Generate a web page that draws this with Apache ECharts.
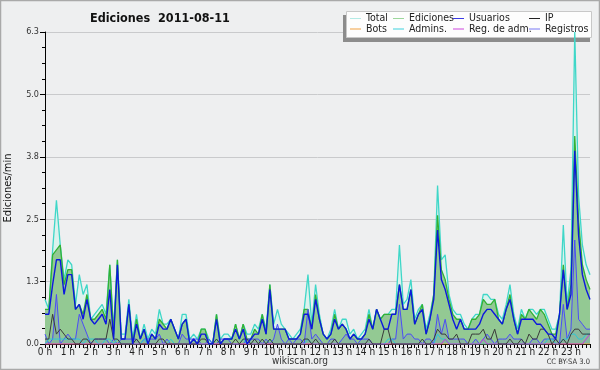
<!DOCTYPE html>
<html>
<head>
<meta charset="utf-8">
<script src="https://cdn.jsdelivr.net/npm/echarts@6/dist/echarts.min.js"></script>
<style>
html, body { margin: 0; padding: 0; background: #eeeff0; }
#chart { width: 600px; height: 370px; }
</style>
</head>
<body>
<div id="chart"></div>
<script>
// ticks de l'axe X (une étiquette par heure, 6 points de 10 min par heure)
const hourLabels = ['0 h', '1 h', '2 h', '3 h', '4 h', '5 h', '6 h', '7 h', '8 h', '9 h', '10 h', '11 h',
    '12 h', '13 h', '14 h', '15 h', '16 h', '17 h', '18 h', '19 h', '20 h', '21 h', '22 h', '23 h'];
const yTicks = [0, 1.26, 2.52, 3.78, 5.04, 6.3];

// ediciones/min, pasos de 10 minutos
const total = [
    0.9, 0.7, 1.9, 2.9, 2.0, 1.3,   1.7, 1.6, 0.8, 1.4, 1.0, 1.2,
    0.5, 0.6, 0.7, 0.8, 0.6, 1.6,   0.3, 1.7, 0.2, 0.2, 0.9, 0.1,
    0.6, 0.1, 0.4, 0.1, 0.3, 0.2,   0.7, 0.4, 0.4, 0.5, 0.3, 0.1,
    0.6, 0.6, 0.1, 0.2, 0.1, 0.3,   0.3, 0.1, 0.0, 0.6, 0.1, 0.2,
    0.2, 0.1, 0.4, 0.1, 0.4, 0.2,   0.2, 0.4, 0.3, 0.6, 0.3, 1.2,
    0.4, 0.7, 0.4, 0.3, 0.2, 0.1,   0.2, 0.3, 0.7, 1.4, 0.4, 1.2,
    0.6, 0.2, 0.1, 0.3, 0.7, 0.3,   0.5, 0.5, 0.2, 0.3, 0.1, 0.2,
    0.3, 0.7, 0.3, 0.7, 0.5, 0.6,   0.6, 0.7, 0.7, 2.0, 0.8, 0.9,
    1.3, 0.5, 0.7, 0.8, 0.3, 0.6,   1.0, 3.2, 1.7, 1.8, 1.0, 0.7,
    0.6, 0.6, 0.4, 0.3, 0.5, 0.6,   0.6, 1.0, 1.0, 0.9, 0.9, 0.6,
    0.5, 0.8, 1.2, 0.6, 0.3, 0.7,   0.5, 0.7, 0.7, 0.6, 0.7, 0.7,
    0.5, 0.3, 0.3, 0.6, 2.4, 0.8,   1.5, 6.3, 3.0, 2.0, 1.6, 1.4
];
const ediciones = [
    0.7, 0.7, 1.8, 1.9, 2.0, 1.2,   1.5, 1.5, 0.7, 0.8, 0.6, 1.0,
    0.5, 0.5, 0.6, 0.7, 0.5, 1.6,   0.2, 1.7, 0.1, 0.1, 0.8, 0.0,
    0.5, 0.1, 0.3, 0.0, 0.2, 0.1,   0.5, 0.4, 0.3, 0.5, 0.3, 0.1,
    0.4, 0.5, 0.0, 0.1, 0.0, 0.3,   0.3, 0.0, 0.0, 0.6, 0.0, 0.1,
    0.1, 0.1, 0.4, 0.1, 0.4, 0.1,   0.1, 0.3, 0.2, 0.6, 0.2, 1.2,
    0.3, 0.3, 0.3, 0.3, 0.1, 0.1,   0.1, 0.2, 0.7, 0.7, 0.3, 1.0,
    0.5, 0.2, 0.1, 0.2, 0.6, 0.3,   0.4, 0.3, 0.1, 0.2, 0.1, 0.1,
    0.2, 0.6, 0.3, 0.7, 0.5, 0.6,   0.6, 0.6, 0.6, 1.2, 0.7, 0.7,
    1.1, 0.4, 0.6, 0.8, 0.2, 0.5,   1.0, 2.6, 1.5, 1.3, 0.9, 0.6,
    0.5, 0.5, 0.3, 0.3, 0.5, 0.5,   0.6, 0.9, 0.8, 0.8, 0.9, 0.5,
    0.4, 0.7, 1.0, 0.5, 0.2, 0.6,   0.5, 0.7, 0.6, 0.5, 0.7, 0.6,
    0.4, 0.2, 0.2, 0.6, 1.6, 0.7,   1.2, 4.2, 2.5, 1.6, 1.3, 1.1
];
const usuarios = [
    0.6, 0.6, 1.2, 1.7, 1.7, 1.0,   1.4, 1.4, 0.7, 0.8, 0.5, 0.9,
    0.5, 0.4, 0.5, 0.6, 0.4, 1.1,   0.1, 1.6, 0.1, 0.1, 0.8, 0.0,
    0.4, 0.1, 0.3, 0.0, 0.2, 0.1,   0.4, 0.3, 0.3, 0.5, 0.3, 0.1,
    0.4, 0.5, 0.0, 0.1, 0.0, 0.2,   0.2, 0.0, 0.0, 0.5, 0.0, 0.1,
    0.1, 0.1, 0.3, 0.1, 0.3, 0.0,   0.1, 0.2, 0.2, 0.5, 0.2, 1.1,
    0.3, 0.3, 0.3, 0.3, 0.1, 0.1,   0.1, 0.2, 0.6, 0.6, 0.3, 0.9,
    0.5, 0.2, 0.1, 0.2, 0.5, 0.3,   0.4, 0.3, 0.1, 0.2, 0.1, 0.1,
    0.2, 0.5, 0.3, 0.7, 0.5, 0.3,   0.3, 0.6, 0.6, 1.2, 0.7, 0.7,
    1.1, 0.4, 0.6, 0.7, 0.2, 0.5,   0.9, 2.3, 1.3, 1.1, 0.8, 0.5,
    0.3, 0.5, 0.3, 0.3, 0.3, 0.3,   0.4, 0.6, 0.7, 0.7, 0.6, 0.5,
    0.4, 0.7, 0.9, 0.5, 0.2, 0.5,   0.5, 0.5, 0.5, 0.4, 0.4, 0.3,
    0.2, 0.2, 0.1, 0.6, 1.5, 0.7,   1.0, 3.9, 2.2, 1.4, 1.1, 0.9
];
const ip = [
    0.1, 0.1, 0.6, 0.2, 0.3, 0.2,   0.1, 0.1, 0.0, 0.0, 0.1, 0.1,
    0.0, 0.1, 0.1, 0.1, 0.1, 0.5,   0.1, 0.1, 0.0, 0.0, 0.0, 0.0,
    0.1, 0.0, 0.0, 0.0, 0.0, 0.0,   0.1, 0.1, 0.0, 0.0, 0.0, 0.0,
    0.0, 0.0, 0.0, 0.0, 0.0, 0.1,   0.1, 0.0, 0.0, 0.1, 0.0, 0.0,
    0.0, 0.0, 0.1, 0.0, 0.1, 0.1,   0.0, 0.1, 0.0, 0.1, 0.0, 0.1,
    0.0, 0.0, 0.0, 0.0, 0.0, 0.0,   0.0, 0.0, 0.1, 0.1, 0.0, 0.1,
    0.0, 0.0, 0.0, 0.0, 0.1, 0.0,   0.0, 0.0, 0.0, 0.0, 0.0, 0.0,
    0.0, 0.1, 0.0, 0.0, 0.0, 0.3,   0.3, 0.0, 0.0, 0.0, 0.0, 0.0,
    0.0, 0.0, 0.0, 0.1, 0.0, 0.0,   0.1, 0.3, 0.2, 0.2, 0.1, 0.1,
    0.2, 0.0, 0.0, 0.0, 0.2, 0.2,   0.2, 0.3, 0.1, 0.1, 0.3, 0.0,
    0.0, 0.0, 0.1, 0.0, 0.0, 0.1,   0.0, 0.2, 0.1, 0.1, 0.3, 0.3,
    0.2, 0.0, 0.1, 0.0, 0.1, 0.0,   0.2, 0.3, 0.3, 0.2, 0.2, 0.2
];
const bots = [
    0, 0, 0, 0, 0, 0,   0, 0, 0, 0, 0, 0,   0, 0, 0, 0, 0, 0,   0, 0, 0, 0, 0, 0,
    0, 0, 0, 0, 0, 0,   0, 0, 0, 0, 0, 0,   0, 0, 0, 0, 0, 0,   0, 0, 0, 0, 0, 0,
    0, 0, 0, 0, 0, 0,   0, 0, 0, 0, 0, 0,   0, 0, 0, 0, 0, 0,   0, 0, 0, 0, 0, 0,
    0, 0, 0, 0, 0, 0,   0, 0, 0, 0, 0, 0,   0, 0, 0, 0, 0, 0,   0, 0, 0, 0, 0, 0,
    0, 0, 0, 0, 0, 0,   0, 0, 0, 0, 0, 0,   0, 0, 0, 0, 0, 0,   0, 0, 0, 0, 0, 0,
    0, 0, 0, 0, 0, 0,   0, 0, 0, 0, 0, 0,   0, 0, 0, 0, 0, 0,   0, 0, 0, 0, 0, 0
];
const admins = [
    0.0, 0.1, 0.1, 0.1, 0.1, 0.1,   0.1, 0.1, 0.1, 0.1, 0.0, 0.1,
    0.1, 0.1, 0.0, 0.0, 0.1, 0.1,   0.0, 0.1, 0.0, 0.0, 0.0, 0.0,
    0.0, 0.0, 0.1, 0.0, 0.0, 0.0,   0.0, 0.0, 0.0, 0.1, 0.0, 0.0,
    0.0, 0.0, 0.0, 0.0, 0.0, 0.0,   0.0, 0.0, 0.0, 0.1, 0.0, 0.0,
    0.0, 0.0, 0.0, 0.0, 0.1, 0.0,   0.0, 0.0, 0.0, 0.0, 0.0, 0.1,
    0.0, 0.0, 0.0, 0.0, 0.0, 0.0,   0.0, 0.0, 0.0, 0.1, 0.0, 0.0,
    0.0, 0.0, 0.0, 0.0, 0.0, 0.0,   0.0, 0.0, 0.0, 0.0, 0.0, 0.0,
    0.0, 0.0, 0.0, 0.0, 0.0, 0.0,   0.1, 0.1, 0.0, 0.0, 0.0, 0.0,
    0.0, 0.0, 0.0, 0.0, 0.0, 0.0,   0.0, 0.2, 0.1, 0.1, 0.0, 0.0,
    0.0, 0.0, 0.0, 0.0, 0.0, 0.0,   0.0, 0.0, 0.0, 0.0, 0.0, 0.0,
    0.0, 0.0, 0.0, 0.0, 0.0, 0.0,   0.0, 0.0, 0.0, 0.0, 0.0, 0.0,
    0.1, 0.1, 0.0, 0.0, 0.1, 0.1,   0.2, 0.2, 0.1, 0.1, 0.2, 0.2
];
const regAdm = [
    0, 0, 0, 0, 0, 0,   0, 0, 0, 0, 0, 0,   0, 0, 0, 0, 0, 0,   0, 0, 0, 0, 0, 0,
    0, 0, 0, 0, 0, 0,   0, 0, 0, 0, 0, 0,   0, 0, 0, 0, 0, 0,   0, 0, 0, 0, 0, 0,
    0, 0, 0, 0, 0, 0,   0, 0, 0, 0, 0, 0,   0, 0, 0, 0, 0, 0,   0, 0, 0, 0, 0, 0,
    0, 0, 0, 0, 0, 0,   0, 0, 0, 0, 0, 0,   0, 0, 0, 0, 0, 0,   0, 0, 0, 0, 0, 0,
    0, 0, 0, 0, 0, 0,   0, 0, 0, 0.1, 0, 0,   0, 0, 0, 0, 0, 0,   0, 0.1, 0, 0, 0, 0,
    0, 0, 0, 0, 0, 0,   0, 0, 0, 0, 0, 0,   0, 0, 0, 0, 0, 0,   0, 0, 0, 0, 0.1, 0.2
];
const registros = [
    0.2, 0.0, 0.1, 1.0, 0.0, 0.1,   0.2, 0.1, 0.1, 0.6, 0.4, 0.2,
    0.0, 0.1, 0.1, 0.1, 0.1, 0.0,   0.1, 0.0, 0.1, 0.1, 0.1, 0.1,
    0.1, 0.0, 0.1, 0.1, 0.1, 0.1,   0.2, 0.0, 0.1, 0.0, 0.0, 0.0,
    0.2, 0.1, 0.1, 0.1, 0.1, 0.0,   0.0, 0.1, 0.0, 0.0, 0.1, 0.1,
    0.1, 0.0, 0.0, 0.0, 0.0, 0.1,   0.1, 0.1, 0.1, 0.0, 0.1, 0.0,
    0.1, 0.4, 0.1, 0.0, 0.1, 0.0,   0.1, 0.1, 0.0, 0.7, 0.1, 0.2,
    0.1, 0.0, 0.0, 0.1, 0.1, 0.0,   0.1, 0.2, 0.1, 0.1, 0.0, 0.1,
    0.1, 0.1, 0.0, 0.0, 0.0, 0.0,   0.0, 0.1, 0.1, 0.8, 0.1, 0.2,
    0.2, 0.1, 0.1, 0.0, 0.1, 0.1,   0.0, 0.6, 0.2, 0.5, 0.1, 0.1,
    0.1, 0.1, 0.1, 0.0, 0.0, 0.1,   0.0, 0.1, 0.2, 0.1, 0.0, 0.1,
    0.1, 0.1, 0.2, 0.1, 0.1, 0.1,   0.0, 0.0, 0.1, 0.1, 0.0, 0.1,
    0.1, 0.1, 0.1, 0.0, 0.8, 0.1,   0.3, 2.1, 0.5, 0.4, 0.3, 0.3
];

// categorías: un punto cada 10 minutos
const categories = [];
for (let i = 0; i < total.length; i++) {
    categories.push(Math.floor(i / 6) + ':' + (i % 6) + '0');
}

const FONT = "'DejaVu Sans Condensed', 'Liberation Sans Narrow', 'DejaVu Sans', sans-serif";

const chart = echarts.init(document.getElementById('chart'), null, { renderer: 'canvas' });

function line(name, data, color, width, extra) {
    return Object.assign({
        name: name,
        type: 'line',
        data: data,
        symbol: 'none',
        silent: true,
        itemStyle: { color: color },
        lineStyle: { color: color, width: width }
    }, extra || {});
}

// leyenda: 4 columnas x 2 filas
const legendItems = [
    ['Total', '#b4ebe6', 350, 13], ['Ediciones', '#9cd79c', 393, 13],
    ['Usuarios', '#3a3ae6', 453, 13], ['IP', '#222222', 529, 13],
    ['Bots', '#f0a040', 350, 23.5], ['Admins.', '#3cd0dc', 393, 23.5],
    ['Reg. de adm.', '#cc44dd', 453, 23.5], ['Registros', '#7878f4', 529, 23.5]
];
const legends = legendItems.map(function (it) {
    return {
        data: [{ name: it[0], icon: 'rect', itemStyle: { color: it[1], borderWidth: 0 } }],
        left: it[2], top: it[3], padding: 0,
        itemWidth: 11, itemHeight: 1, itemGap: 0,
        selectedMode: false,
        textStyle: { fontSize: 10.5, color: '#222', fontFamily: FONT, padding: [0, 0, 0, 0] }
    };
});

chart.setOption({
    animation: false,
    backgroundColor: '#eeeff0',
    title: {
        text: 'Ediciones  2011-08-11',
        left: 85, top: 7,
        textStyle: { fontSize: 12.5, fontWeight: 'bold', color: '#111', fontFamily: FONT }
    },
    legend: legends,
    grid: { left: 45, right: 10, top: 32, bottom: 26, outerBoundsMode: 'none' },
    xAxis: {
        type: 'category',
        data: categories,
        boundaryGap: false,
        axisLine: { lineStyle: { color: '#000', width: 1 } },
        axisTick: { show: true, interval: 0, length: 4, lineStyle: { color: '#000' } },
        axisLabel: {
            interval: function (idx) { return idx % 6 === 0; },
            formatter: function (v, idx) { return hourLabels[Math.floor(idx / 6)]; },
            fontSize: 10, color: '#222', margin: 3, fontFamily: FONT
        },
        splitLine: { show: false }
    },
    yAxis: {
        type: 'value',
        min: yTicks[0], max: yTicks[yTicks.length - 1], interval: yTicks[1],
        name: 'Ediciones/min',
        nameLocation: 'middle', nameGap: 31, nameRotate: 90,
        nameTextStyle: { fontSize: 11, color: '#111', fontFamily: FONT },
        axisLine: { show: true, lineStyle: { color: '#000', width: 1 } },
        axisTick: { show: true, length: 5, lineStyle: { color: '#000' } },
        minorTick: { show: true, splitNumber: 4, length: 3, lineStyle: { color: '#000' } },
        axisLabel: {
            formatter: function (v) { return v.toFixed(1); },
            fontSize: 9, color: '#333', margin: 6, fontFamily: FONT
        },
        splitLine: { show: true, lineStyle: { color: '#c9cacc', width: 1 } }
    },
    series: [
        line('Total', total, '#3fd7c8', 1.3, { areaStyle: { color: '#dcf2ed', opacity: 1 } }),
        line('Ediciones', ediciones, '#33b133', 1.3, { areaStyle: { color: '#93c993', opacity: 1 } }),
        line('Registros', registros, '#4c4cf6', 1, { areaStyle: { color: 'rgba(70,70,240,0.18)' } }),
        line('Bots', bots, '#f0a040', 1),
        line('Admins.', admins, '#2cc8d8', 1),
        line('Reg. de adm.', regAdm, '#c040d8', 1),
        line('IP', ip, '#3a3a3a', 1),
        line('Usuarios', usuarios, '#0c18de', 1.4)
    ],
    graphic: [
        { type: 'rect', z: 0, silent: true, shape: { x: 0.5, y: 0.5, width: 599, height: 369 },
          style: { fill: 'none', stroke: '#a9a9a9', lineWidth: 1.5 } },
        { type: 'rect', z: 1, silent: true, shape: { x: 343, y: 15, width: 247, height: 27 },
          style: { fill: '#8c8c8c' } },
        { type: 'rect', z: 1, silent: true, shape: { x: 346.5, y: 11.5, width: 245, height: 26 },
          style: { fill: '#fdfdfd', stroke: '#c8c8c8', lineWidth: 1 } },
        { type: 'text', z: 5, silent: true, left: 'center', top: 356,
          style: { text: 'wikiscan.org', fill: '#333', font: '10px ' + FONT } },
        { type: 'text', z: 5, silent: true, right: 10, top: 358,
          style: { text: 'CC BY-SA 3.0', fill: '#333', font: '7.5px ' + FONT } }
    ]
});
</script>
</body>
</html>
